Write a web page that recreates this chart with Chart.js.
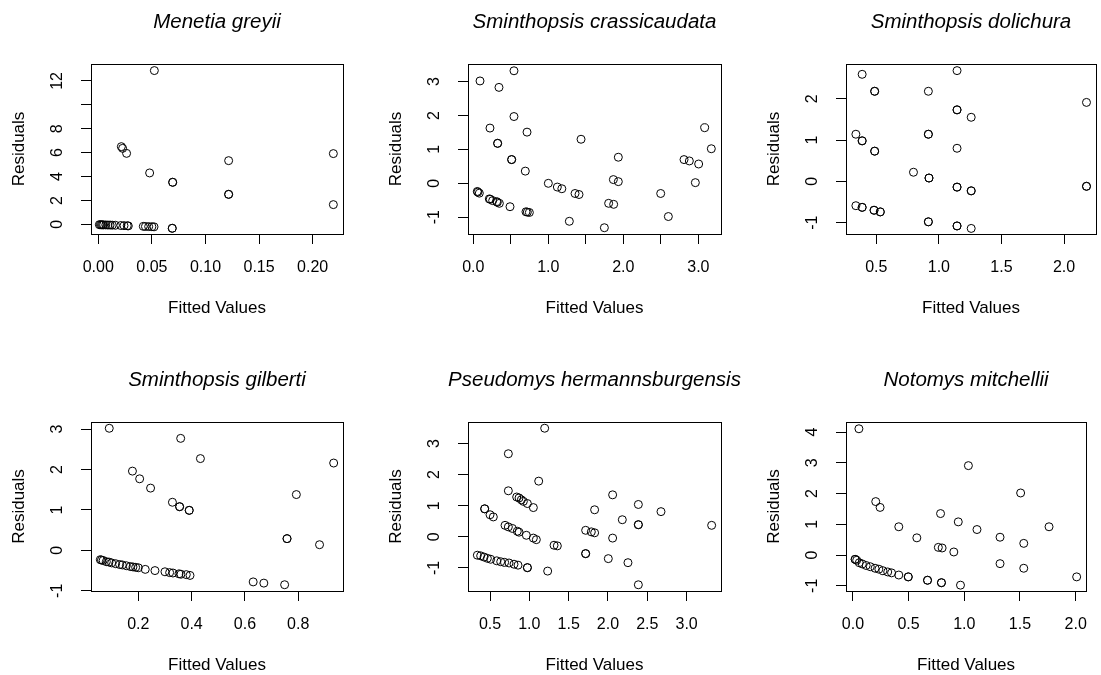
<!DOCTYPE html>
<html>
<head>
<meta charset="utf-8">
<title>Residuals vs Fitted</title>
<script src="https://cdn.jsdelivr.net/npm/chart.js@4.4.1/dist/chart.umd.min.js"></script>
<style>
    html, body { margin: 0; padding: 0; background: #fff; }
    #wrap { position: relative; width: 1101px; height: 675px; overflow: hidden; background: #fff; }
    #wrap canvas { position: absolute; }
</style>
</head>
<body>
<div id="wrap"></div>
<script>
const speciesNames = ['Menetia greyii', 'Sminthopsis crassicaudata', 'Sminthopsis dolichura',
    'Sminthopsis gilberti', 'Pseudomys hermannsburgensis', 'Notomys mitchellii'];

// Menetia greyii
const greyiiX = [0.001, 0.002, 0.003, 0.004, 0.005, 0.007, 0.009, 0.011, 0.013, 0.016, 0.021, 0.024, 0.027, 0.028,
    0.042, 0.044, 0.047, 0.050, 0.052, 0.069, 0.069, 0.0523, 0.0215, 0.0227, 0.0264, 0.0479, 0.0694, 0.0694,
    0.1216, 0.1216, 0.1216, 0.2193, 0.2193];
const greyiiY = [-0.03, -0.03, -0.04, -0.04, -0.05, -0.05, -0.06, -0.06, -0.07, -0.08, -0.10, -0.11, -0.12, -0.13,
    -0.17, -0.18, -0.19, -0.20, -0.21, -0.33, -0.33, 12.87, 6.50, 6.36, 5.94, 4.30, 3.52, 3.52,
    5.33, 2.51, 2.51, 5.92, 1.65];

// Sminthopsis crassicaudata
const crassiX = [0.089, 0.542, 0.342, 0.542, 0.222, 0.324, 0.324, 0.716, 0.511, 0.511, 0.693, 1.436, 1.0, 1.12,
    1.18, 1.356, 1.409, 1.28, 1.747, 1.804, 1.871, 1.867, 1.933, 1.933, 2.498, 2.6, 2.809, 2.88, 3.004, 2.96,
    3.084, 3.173, 0.053, 0.06, 0.08, 0.213, 0.225, 0.258, 0.311, 0.32, 0.347, 0.489, 0.702, 0.72, 0.747];
const crassiY = [3.02, 3.32, 2.83, 1.97, 1.63, 1.18, 1.18, 1.51, 0.70, 0.70, 0.36, 1.30, 0.0, -0.11,
    -0.16, -0.30, -0.33, -1.12, -1.31, -0.59, -0.62, 0.11, 0.05, 0.77, -0.30, -0.98, 0.70, 0.66, 0.57, 0.02,
    1.64, 1.02, -0.24, -0.26, -0.29, -0.46, -0.47, -0.51, -0.54, -0.56, -0.59, -0.69, -0.84, -0.85, -0.86];

// Sminthopsis dolichura
const dolichX = [0.387, 1.145, 0.487, 0.487, 0.916, 1.145, 1.145, 1.258, 2.179, 0.337, 0.387, 0.387, 0.916, 0.916,
    0.487, 0.487, 1.145, 0.797, 0.921, 0.921, 1.145, 1.145, 1.258, 1.258, 2.179, 2.179, 0.337, 0.387, 0.387,
    0.482, 0.482, 0.532, 0.532, 0.916, 0.916, 1.145, 1.145, 1.258];
const dolichY = [2.59, 2.68, 2.18, 2.18, 2.18, 1.73, 1.73, 1.55, 1.91, 1.14, 0.98, 0.98, 1.14, 1.14,
    0.73, 0.73, 0.80, 0.22, 0.08, 0.08, -0.14, -0.14, -0.23, -0.23, -0.12, -0.12, -0.59, -0.63, -0.63,
    -0.70, -0.70, -0.74, -0.74, -0.98, -0.98, -1.08, -1.08, -1.14];

// Sminthopsis gilberti
const gilbertiX = [0.091, 0.359, 0.433, 0.933, 0.178, 0.205, 0.246, 0.328, 0.355, 0.355, 0.391, 0.391, 0.793,
    0.758, 0.758, 0.88, 0.631, 0.671, 0.749, 0.0575, 0.062, 0.068, 0.08, 0.09, 0.10, 0.115, 0.13, 0.14, 0.155,
    0.17, 0.18, 0.19, 0.2, 0.226, 0.2625, 0.3, 0.3175, 0.33, 0.3525, 0.36, 0.38, 0.394];
const gilbertiY = [3.02, 2.77, 2.27, 2.16, 1.96, 1.77, 1.54, 1.19, 1.08, 1.08, 0.99, 0.99, 1.38,
    0.29, 0.29, 0.14, -0.78, -0.81, -0.85, -0.23, -0.24, -0.25, -0.28, -0.29, -0.31, -0.33, -0.35, -0.36, -0.38,
    -0.40, -0.41, -0.42, -0.43, -0.47, -0.50, -0.53, -0.55, -0.56, -0.58, -0.59, -0.60, -0.62];

// Pseudomys hermannsburgensis
const hermannX = [1.195, 0.733, 1.119, 0.733, 0.839, 0.869, 0.898, 0.924, 0.975, 1.051, 0.432, 0.432, 0.5, 0.542,
    0.691, 0.733, 0.784, 0.847, 0.869, 0.962, 1.051, 1.089, 1.314, 1.356, 1.233, 0.339, 0.381, 0.424, 0.466,
    0.508, 0.585, 0.636, 0.686, 0.742, 0.805, 0.856, 0.975, 0.975, 1.716, 1.788, 1.83, 1.83, 1.716, 1.716,
    2.004, 2.059, 2.059, 2.182, 2.254, 2.386, 2.386, 2.386, 2.386, 2.674, 3.318];
const hermannY = [3.49, 2.67, 1.79, 1.48, 1.28, 1.25, 1.19, 1.14, 1.07, 0.94, 0.90, 0.90, 0.71, 0.64,
    0.37, 0.32, 0.27, 0.18, 0.15, 0.05, -0.04, -0.09, -0.27, -0.29, -1.10, -0.59, -0.61, -0.65, -0.69,
    -0.72, -0.77, -0.80, -0.82, -0.84, -0.88, -0.91, -0.99, -0.99, 0.21, 0.16, 0.13, 0.87, -0.54, -0.54,
    -0.70, 1.35, -0.04, 0.55, -0.83, 1.04, 0.39, 0.39, -1.54, 0.81, 0.37];

// Notomys mitchellii
const mitchX = [0.054, 1.037, 1.506, 0.205, 0.244, 0.787, 0.946, 1.114, 1.761, 0.412, 0.574, 1.321, 1.534, 0.767,
    0.801, 0.906, 1.321, 1.534, 2.009, 0.67, 0.67, 0.795, 0.795, 0.966, 0.497, 0.497, 0.412, 0.02, 0.02,
    0.034, 0.057, 0.085, 0.119, 0.156, 0.199, 0.233, 0.27, 0.3125, 0.347];
const mitchY = [4.11, 2.91, 2.02, 1.74, 1.55, 1.35, 1.08, 0.83, 0.92, 0.92, 0.56, 0.58, 0.38, 0.25,
    0.23, 0.10, -0.28, -0.43, -0.71, -0.82, -0.82, -0.90, -0.90, -0.98, -0.71, -0.71, -0.65, -0.14, -0.14,
    -0.17, -0.25, -0.29, -0.34, -0.38, -0.43, -0.46, -0.51, -0.55, -0.58];

// axis limits (R style, 4% extended) and ticks
const xLimits = [[-0.0068, 0.2283], [-0.071, 3.302], [0.258, 2.255], [0.0225, 0.968], [0.22, 3.437], [-0.062, 2.094]];
const yLimits = [[-0.81, 13.42], [-1.495, 3.52], [-1.275, 2.84], [-1.005, 3.175], [-1.74, 3.69], [-1.17, 4.33]];
const xTicks = [[0, 0.05, 0.10, 0.15, 0.20], [0, 0.5, 1, 1.5, 2, 2.5, 3], [0.5, 1, 1.5, 2],
    [0.2, 0.4, 0.6, 0.8], [0.5, 1, 1.5, 2, 2.5, 3], [0, 0.5, 1, 1.5, 2]];
const xTickLabels = [['0.00', '0.05', '0.10', '0.15', '0.20'], ['0.0', '', '1.0', '', '2.0', '', '3.0'],
    ['0.5', '1.0', '1.5', '2.0'], ['0.2', '0.4', '0.6', '0.8'], ['0.5', '1.0', '1.5', '2.0', '2.5', '3.0'],
    ['0.0', '0.5', '1.0', '1.5', '2.0']];
const yTicks = [[0, 2, 4, 6, 8, 10, 12], [-1, 0, 1, 2, 3], [-1, 0, 1, 2], [-1, 0, 1, 2, 3], [-1, 0, 1, 2, 3], [-1, 0, 1, 2, 3, 4]];
const yTickLabels = [['0', '2', '4', '6', '8', '', '12'], ['-1', '0', '1', '2', '3'], ['-1', '0', '1', '2'],
    ['-1', '0', '1', '2', '3'], ['-1', '0', '1', '2', '3'], ['-1', '0', '1', '2', '3', '4']];

const panelX = [greyiiX, crassiX, dolichX, gilbertiX, hermannX, mitchX];
const panelY = [greyiiY, crassiY, dolichY, gilbertiY, hermannY, mitchY];

const FONT = "'Liberation Sans', Arial, Helvetica, sans-serif";

// canvas placement: [left, top, width, height, right padding]
const placement = [
    [0, 0, 367, 334, 24], [377, 0, 367, 334, 23], [755, 0, 346, 334, 2],
    [0, 358, 367, 333, 24], [377, 358, 367, 333, 23], [755, 358, 346, 333, 2]
];

function makePanel(i) {
    const [left, top, w, h, padRight] = placement[i];
    const canvas = document.createElement('canvas');
    canvas.width = w;
    canvas.height = h;
    canvas.style.left = left + 'px';
    canvas.style.top = top + 'px';
    document.getElementById('wrap').appendChild(canvas);

    const points = panelX[i].map((x, k) => ({ x: x, y: panelY[i][k] }));

    // box round the plot region, main title and rotated y tick labels, like base R
    const framePlugin = {
        id: 'frame',
        afterDraw(chart) {
            const ctx = chart.ctx;
            const a = chart.chartArea;
            ctx.save();
            ctx.strokeStyle = '#000';
            ctx.lineWidth = 1;
            ctx.strokeRect(Math.round(a.left) + 0.5, Math.round(a.top) + 0.5,
                Math.round(a.right - a.left), Math.round(a.bottom - a.top));

            ctx.fillStyle = '#000';
            ctx.font = 'italic 20.5px ' + FONT;
            ctx.textAlign = 'center';
            ctx.textBaseline = 'alphabetic';
            ctx.fillText(speciesNames[i], (a.left + a.right) / 2, a.top - 36);

            const ys = chart.scales.y;
            ctx.font = '16px ' + FONT;
            ctx.textBaseline = 'middle';
            yTicks[i].forEach((v, k) => {
                const label = yTickLabels[i][k];
                if (!label) return;
                ctx.save();
                ctx.translate(a.left - 33, ys.getPixelForValue(v));
                ctx.rotate(-Math.PI / 2);
                ctx.fillText(label, 0, 0);
                ctx.restore();
            });
            ctx.restore();
        }
    };

    const tickGrid = { drawOnChartArea: false, drawTicks: true, tickLength: 10, color: '#000', lineWidth: 1 };

    new Chart(canvas, {
        type: 'scatter',
        data: {
            datasets: [{
                data: points,
                pointStyle: 'circle',
                pointRadius: 4,
                borderWidth: 1,
                borderColor: '#000',
                backgroundColor: 'rgba(0,0,0,0)',
                clip: false
            }]
        },
        options: {
            responsive: false,
            animation: false,
            events: [],
            layout: { padding: { top: 64, left: 0, right: padRight, bottom: 0 } },
            plugins: {
                legend: { display: false },
                tooltip: { enabled: false }
            },
            scales: {
                x: {
                    type: 'linear',
                    position: 'bottom',
                    min: xLimits[i][0],
                    max: xLimits[i][1],
                    afterBuildTicks: s => { s.ticks = xTicks[i].map(v => ({ value: v })); },
                    afterFit: s => { s.height = 100; },
                    grid: tickGrid,
                    border: { display: false },
                    ticks: {
                        callback: (v, k) => xTickLabels[i][k],
                        autoSkip: false,
                        maxRotation: 0,
                        minRotation: 0,
                        padding: 14,
                        color: '#000',
                        font: { family: FONT, size: 16 }
                    },
                    title: {
                        display: true,
                        text: 'Fitted Values',
                        color: '#000',
                        font: { family: FONT, size: 17 },
                        padding: { top: 0, bottom: 15 }
                    }
                },
                y: {
                    type: 'linear',
                    position: 'left',
                    min: yLimits[i][0],
                    max: yLimits[i][1],
                    afterBuildTicks: s => { s.ticks = yTicks[i].map(v => ({ value: v })); },
                    afterFit: s => { s.width = 91; },
                    grid: tickGrid,
                    border: { display: false },
                    ticks: { display: false },
                    title: {
                        display: true,
                        text: 'Residuals',
                        color: '#000',
                        font: { family: FONT, size: 17 },
                        padding: { top: 9, bottom: 0 }
                    }
                }
            }
        },
        plugins: [framePlugin]
    });
}

document.addEventListener('DOMContentLoaded', function() {
    for (let i = 0; i < 6; i++) makePanel(i);
});
</script>
</body>
</html>
